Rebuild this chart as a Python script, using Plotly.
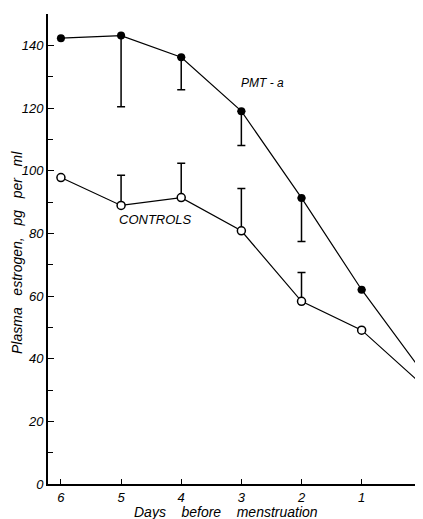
import plotly.graph_objects as go

days = [6, 5, 4, 3, 2, 1, 0]
pmt = [142.3, 143.1, 136.2, 119.0, 91.3, 62.0, 36.0]
pmt_err_minus = [0, 22.7, 10.4, 11.0, 13.9, 0, 0]
controls = [97.8, 88.9, 91.4, 80.8, 58.3, 49.1, 31.8]
controls_err_plus = [0, 9.6, 11.0, 13.5, 9.2, 0, 0]
zeros = [0] * 7

ytick_vals = [0, 20, 40, 60, 80, 100, 120, 140]
xtick_vals = [6, 5, 4, 3, 2, 1, 0]

fnt = dict(family="Liberation Sans, Arial, sans-serif", color="black", style="italic")
sp = "&nbsp;"

fig = go.Figure()
fig.add_trace(go.Scatter(
    x=days, y=pmt, mode="lines+markers", name="PMT-a",
    line=dict(color="black", width=1.2),
    marker=dict(symbol="circle", size=8, color="black"),
    error_y=dict(type="data", symmetric=False, array=zeros, arrayminus=pmt_err_minus,
                 color="black", thickness=1.5, width=4),
    cliponaxis=False,
))
fig.add_trace(go.Scatter(
    x=days, y=controls, mode="lines+markers", name="CONTROLS",
    line=dict(color="black", width=1.2),
    marker=dict(symbol="circle", size=8, color="white", line=dict(color="black", width=1.5)),
    error_y=dict(type="data", symmetric=False, array=controls_err_plus, arrayminus=zeros,
                 color="black", thickness=1.5, width=4),
    cliponaxis=False,
))

fig.add_annotation(x=2.645, y=128, text="PMT - a", showarrow=False, xanchor="center",
                   font=dict(size=12, **fnt))
fig.add_annotation(x=4.43, y=84.3, text="CONTROLS", showarrow=False, xanchor="center",
                   font=dict(size=13, **fnt))
fig.add_annotation(x=-0.0827, xref="paper", y=0.4936, yref="paper", textangle=-90,
                   text=f"Plasma{sp*3}estrogen,{sp*3}pg{sp*3}per{sp*3}ml",
                   showarrow=False, xanchor="center", yanchor="middle",
                   font=dict(size=14, **fnt))
fig.add_annotation(x=0.4747, xref="paper", y=-0.0596, yref="paper",
                   text=f"Days{sp*4}before{sp*4}menstruation",
                   showarrow=False, xanchor="center", yanchor="middle",
                   font=dict(size=14, **fnt))

fig.update_layout(
    width=415, height=511,
    margin=dict(l=40, r=0, t=6, b=35),
    paper_bgcolor="white", plot_bgcolor="white",
    showlegend=False,
    font=dict(size=12, **fnt),
    xaxis=dict(
        range=[6.215, -0.02], tickvals=xtick_vals, ticktext=[str(v) for v in xtick_vals],
        ticks="inside", ticklen=5, tickwidth=1.2, tickcolor="black",
        showline=True, linecolor="black", linewidth=2, showgrid=False, zeroline=False,
        tickfont=dict(size=13, **fnt),
    ),
    yaxis=dict(
        range=[0, 150], tickvals=ytick_vals,
        ticks="inside", ticklen=6, tickwidth=1.2, tickcolor="black",
        minor=dict(dtick=10, tick0=0, ticks="inside", ticklen=5, tickwidth=1.2, tickcolor="black"),
        showline=True, linecolor="black", linewidth=2, showgrid=False, zeroline=False,
        tickfont=dict(size=13, **fnt),
    ),
)

fig.write_html("out.html")
